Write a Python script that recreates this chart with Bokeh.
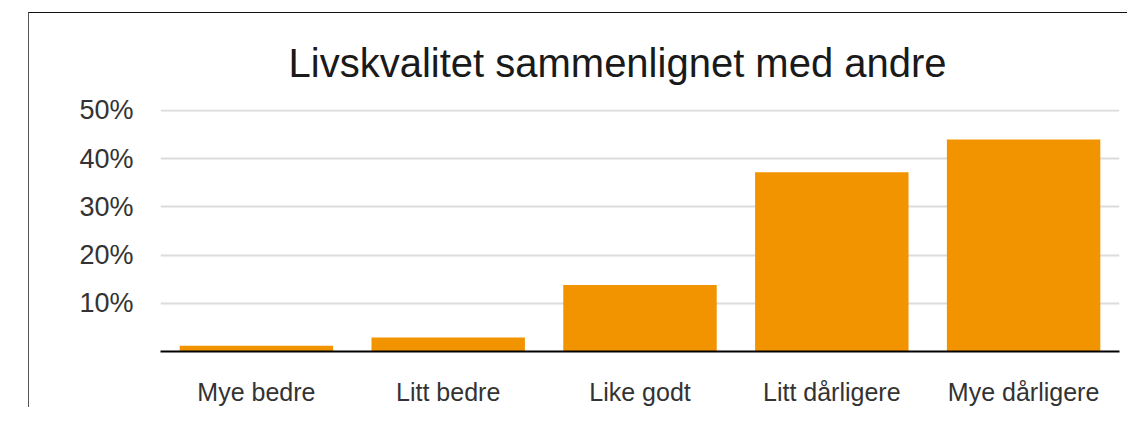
from bokeh.plotting import figure
from bokeh.models import FixedTicker, CustomJSTickFormatter, ColumnDataSource
from bokeh.embed import file_html
from bokeh.resources import INLINE

categories = ["Mye bedre", "Litt bedre", "Like godt", "Litt dårligere", "Mye dårligere"]
values = [1.2, 2.9, 13.8, 37.2, 44.0]
y_ticks = [10, 20, 30, 40, 50]
title_text = "Livskvalitet sammenlignet med andre"

FONT = "Liberation Sans"

src = ColumnDataSource(dict(cat=categories, val=values))

p = figure(x_range=categories, y_range=(0, 50.2), width=1099, height=395,
           output_backend="svg", toolbar_location=None, title=title_text,
           min_border_left=131, min_border_right=9, min_border_top=95, min_border_bottom=10)
p.styles = {"margin-left": "28px", "margin-top": "12px",
            "border-left": "1px solid #555", "border-top": "1px solid #111",
            "border-right": "none", "border-bottom": "none"}

p.vbar(x="cat", top="val", width=0.8, source=src, color="#F29400", line_color=None)

p.title.text_font = FONT
p.title.text_font_size = "40px"
p.title.text_font_style = "normal"
p.title.text_color = "#1a1a1a"
p.title.align = "left"
p.title.offset = 128
p.title.standoff = 50

p.outline_line_color = None
p.xgrid.grid_line_color = None
p.ygrid.grid_line_color = "#dcdcdc"
p.ygrid.grid_line_width = 2
p.ygrid.ticker = FixedTicker(ticks=y_ticks)

p.yaxis.ticker = FixedTicker(ticks=y_ticks)
p.yaxis.formatter = CustomJSTickFormatter(code="return tick + '%';")
p.yaxis.axis_line_color = None
p.yaxis.major_tick_line_color = None
p.yaxis.minor_tick_line_color = None
p.yaxis.major_label_text_font = FONT
p.yaxis.major_label_text_font_size = "27px"
p.yaxis.major_label_text_color = "#333333"
p.yaxis.major_label_standoff = 21

p.xaxis.axis_line_color = "#000000"
p.xaxis.axis_line_width = 2
p.xaxis.major_tick_line_color = None
p.xaxis.minor_tick_line_color = None
p.xaxis.major_label_text_font = FONT
p.xaxis.major_label_text_font_size = "25px"
p.xaxis.major_label_text_color = "#333333"
p.xaxis.major_label_standoff = 20

p.x_range.range_padding = 0.0

open("out.html", "w").write(file_html(p, INLINE))
